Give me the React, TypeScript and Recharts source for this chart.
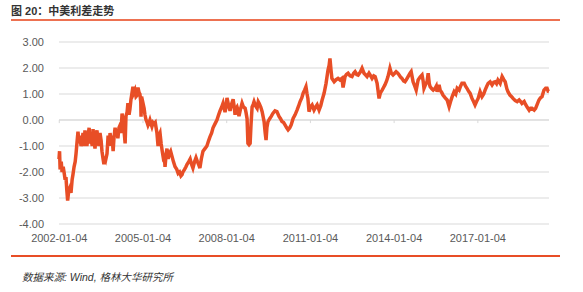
import { LineChart, Line, XAxis, YAxis, CartesianGrid, ReferenceLine } from "recharts";

// China–US 10y yield spread (x = fractional year)
const years = [
  2002.0, 2002.02, 2002.04, 2002.08, 2002.11, 2002.15, 2002.18, 2002.22, 2002.25, 2002.28, 2002.31, 2002.35, 2002.39, 2002.43, 2002.47, 2002.5, 2002.54, 2002.58, 2002.61, 2002.65, 2002.68, 2002.72, 2002.75, 2002.79, 2002.82, 2002.86, 2002.9, 2002.93, 2002.97,
  2003.0, 2003.04, 2003.08, 2003.11, 2003.15, 2003.19, 2003.22, 2003.25, 2003.29, 2003.33, 2003.36, 2003.4, 2003.43, 2003.47, 2003.51, 2003.54, 2003.58, 2003.61, 2003.65, 2003.68, 2003.72, 2003.76, 2003.8, 2003.83, 2003.87, 2003.9, 2003.94, 2003.97,
  2004.01, 2004.05, 2004.08, 2004.11, 2004.15, 2004.19, 2004.22, 2004.26, 2004.3, 2004.33, 2004.37, 2004.4, 2004.44, 2004.47, 2004.51, 2004.54, 2004.58, 2004.61, 2004.65, 2004.68, 2004.72, 2004.76, 2004.8, 2004.83, 2004.87, 2004.9, 2004.93, 2004.94, 2004.96,
  2005.0, 2005.05, 2005.08, 2005.12, 2005.16, 2005.19, 2005.23, 2005.26, 2005.3, 2005.33, 2005.37, 2005.41, 2005.45, 2005.48, 2005.51, 2005.55, 2005.58, 2005.62, 2005.66, 2005.7, 2005.73, 2005.77, 2005.8, 2005.84, 2005.87, 2005.91, 2005.95,
  2006.0, 2006.05, 2006.1, 2006.16, 2006.22, 2006.27, 2006.32, 2006.37, 2006.41, 2006.44, 2006.5, 2006.55, 2006.59, 2006.65, 2006.7, 2006.75, 2006.8, 2006.86, 2006.91, 2006.96,
  2007.0, 2007.05, 2007.1, 2007.16, 2007.23, 2007.3, 2007.36, 2007.41, 2007.47, 2007.52, 2007.59, 2007.66, 2007.72, 2007.77, 2007.83, 2007.88, 2007.92, 2007.95,
  2008.0, 2008.02, 2008.07, 2008.13, 2008.18, 2008.24, 2008.28, 2008.31, 2008.35, 2008.38, 2008.42, 2008.45, 2008.5, 2008.56, 2008.61, 2008.67, 2008.7, 2008.74, 2008.77, 2008.81, 2008.85, 2008.88, 2008.92, 2008.96, 2008.99,
  2009.04, 2009.1, 2009.14, 2009.17, 2009.23, 2009.28, 2009.35, 2009.39, 2009.42, 2009.45, 2009.49, 2009.55, 2009.6, 2009.67, 2009.74, 2009.81, 2009.89, 2009.94, 2009.99,
  2010.05, 2010.1, 2010.16, 2010.21, 2010.27, 2010.32, 2010.39, 2010.46, 2010.53, 2010.59, 2010.64, 2010.7, 2010.75, 2010.8, 2010.85, 2010.89, 2010.92, 2010.96,
  2011.01, 2011.07, 2011.14, 2011.2, 2011.25, 2011.32, 2011.38, 2011.43, 2011.5, 2011.57, 2011.64, 2011.68, 2011.71, 2011.75, 2011.78, 2011.86, 2011.93,
  2012.0, 2012.07, 2012.14, 2012.18, 2012.25, 2012.3, 2012.36, 2012.43, 2012.5, 2012.56, 2012.61, 2012.67, 2012.72, 2012.8, 2012.86, 2012.93,
  2013.0, 2013.04, 2013.11, 2013.17, 2013.22, 2013.28, 2013.33, 2013.4, 2013.47, 2013.52, 2013.58, 2013.63, 2013.68, 2013.74, 2013.79, 2013.86, 2013.91, 2013.97,
  2014.03, 2014.08, 2014.14, 2014.19, 2014.24, 2014.29, 2014.35, 2014.4, 2014.45, 2014.51, 2014.58, 2014.62, 2014.69, 2014.75, 2014.8, 2014.87, 2014.94,
  2015.01, 2015.05, 2015.08, 2015.15, 2015.19, 2015.23, 2015.27, 2015.3, 2015.36, 2015.41, 2015.48, 2015.52, 2015.55, 2015.62, 2015.66, 2015.72, 2015.76, 2015.84, 2015.91, 2015.98,
  2016.03, 2016.09, 2016.16, 2016.22, 2016.27, 2016.34, 2016.39, 2016.44, 2016.52, 2016.57, 2016.62, 2016.68, 2016.73, 2016.8, 2016.86, 2016.91, 2016.96,
  2017.02, 2017.09, 2017.16, 2017.22, 2017.27, 2017.33, 2017.38, 2017.45, 2017.52, 2017.58, 2017.63, 2017.68, 2017.73, 2017.81, 2017.88, 2017.94, 2017.99,
  2018.05, 2018.09, 2018.16, 2018.22, 2018.27, 2018.35, 2018.42, 2018.49, 2018.55, 2018.59, 2018.67, 2018.72, 2018.77, 2018.85, 2018.9, 2018.95,
  2019.03, 2019.08, 2019.13, 2019.2, 2019.25, 2019.31, 2019.38, 2019.44, 2019.49, 2019.53, 2019.56,
];

const spread = [
  -1.5, -1.2, -1.9, -1.6, -2.0, -1.8, -2.0, -2.3, -2.2, -2.7, -3.1, -2.7, -2.6, -2.8, -2.3, -2.1, -1.8, -1.6, -1.3, -0.8, -0.45, -0.9, -0.6, -1.0, -0.9, -0.5, -1.0, -0.4, -0.8,
  -1.0, -0.6, -0.3, -0.9, -0.7, -1.0, -0.35, -0.7, -1.1, -0.6, -0.4, -0.8, -1.0, -0.5, -0.8, -1.2, -1.5, -1.7, -1.4, -1.5, -1.3, -0.6, -1.0, -0.5, -0.9, -0.6, -1.2, -0.7,
  -0.3, -0.6, -0.4, -0.7, -0.3, -0.2, -0.5, 0.25, -0.1, -0.4, -0.9, 0.15, 0.3, 0.65, 0.2, 0.4, 0.8, 1.0, 1.28, 1.05, 1.15, 0.9, 0.95, 1.25, 1.05, 1.0, 0.7, 0.13, 0.9,
  0.7, 0.45, 0.2, 0.0, -0.1, -0.2, -0.1, 0.0, -0.15, -0.25, -0.1, -0.15, -0.1, -0.3, -0.5, -1.0, -0.6, -0.5, -0.9, -1.2, -1.4, -1.3, -1.8, -1.3, -1.1, -1.5, -1.3,
  -1.2, -1.4, -1.6, -1.8, -1.9, -2.05, -2.0, -2.15, -2.1, -2.0, -1.9, -1.8, -1.7, -1.6, -1.5, -1.7, -1.85, -1.6, -1.45, -1.6,
  -1.7, -1.85, -1.5, -1.2, -1.1, -1.0, -0.8, -0.65, -0.5, -0.3, -0.15, 0.0, 0.2, 0.35, 0.5, 0.65, 0.45, 0.3,
  0.6, 0.85, 0.6, 0.35, 0.6, 0.8, 0.5, 0.2, 0.45, 0.5, 0.35, 0.15, 0.4, 0.65, 0.5, 0.45, 0.3, 0.05, -0.9, -0.95, -0.9, -0.2, 0.5, 0.6, 0.7,
  0.55, 0.45, 0.7, 0.64, 0.5, 0.32, -0.06, -0.5, -0.77, -0.3, -0.06, 0.05, 0.13, 0.26, 0.35, 0.32, 0.13, 0.05, -0.06,
  -0.1, -0.19, -0.3, -0.38, -0.3, -0.19, 0.06, 0.2, 0.38, 0.55, 0.71, 0.85, 1.03, 1.15, 1.28, 1.0, 0.83, 0.32,
  0.5, 0.58, 0.38, 0.5, 0.58, 0.38, 0.55, 0.77, 1.03, 1.41, 1.92, 2.1, 2.37, 1.9, 1.6, 1.47, 1.55,
  1.6, 1.54, 1.6, 1.25, 1.67, 1.75, 1.8, 1.7, 1.67, 1.8, 1.86, 1.75, 1.73, 1.85, 1.99, 1.8,
  1.72, 1.67, 1.8, 1.7, 1.6, 1.7, 1.67, 1.41, 0.83, 1.05, 1.15, 1.25, 1.35, 1.5, 1.67, 1.99, 1.8, 1.73,
  1.8, 1.86, 1.8, 1.73, 1.65, 1.6, 1.5, 1.47, 1.55, 1.67, 1.8, 1.86, 1.47, 1.3, 1.15, 1.54, 1.65,
  1.73, 1.5, 1.22, 1.4, 1.47, 1.8, 1.4, 1.28, 1.2, 1.15, 1.22, 1.3, 1.09, 1.35, 1.15, 1.05, 0.96, 0.85, 0.77, 0.51,
  0.7, 0.9, 1.09, 1.0, 1.22, 1.15, 1.3, 1.41, 1.41, 1.3, 1.22, 1.1, 1.03, 0.83, 0.7, 0.58, 0.7,
  0.83, 1.09, 0.9, 1.0, 1.15, 1.3, 1.41, 1.47, 1.35, 1.45, 1.47, 1.4, 1.54, 1.41, 1.67, 1.55, 1.47,
  1.2, 1.09, 0.96, 0.9, 0.83, 0.75, 0.71, 0.77, 0.7, 0.64, 0.71, 0.6, 0.51, 0.38, 0.45, 0.45,
  0.38, 0.45, 0.58, 0.77, 0.85, 0.9, 1.15, 1.22, 1.22, 1.1, 1.09,
];

const tickYears = [2002.01, 2005.01, 2008.01, 2011.01, 2014.01, 2017.01];
const tickLabels = ["2002-01-04", "2005-01-04", "2008-01-04", "2011-01-04", "2014-01-04", "2017-01-04"];
const yTicks = [-4, -3, -2, -1, 0, 1, 2, 3];

const RED = "#E84E26";
const GRID = "#D9D9D9";
const FONT = '"Liberation Sans", "Noto Sans CJK SC", sans-serif';

export default function App() {
  const data = years.map((t, i) => ({ t, v: spread[i] }));

  return (
    <div style={{ position: "absolute", left: 0, top: 0, width: 583, height: 292, background: "#fff", fontFamily: FONT }}>
      <div style={{ position: "absolute", left: 11, top: 2, fontSize: 11, fontWeight: 700, color: "#333" }}>
        图 20：中美利差走势
      </div>
      <div style={{ position: "absolute", left: 11, top: 19, width: 549, height: 2, background: RED, opacity: 0.8 }} />

      <LineChart
        width={583}
        height={292}
        data={data}
        margin={{ top: 42, right: 34, left: 9, bottom: 38 }}
      >
        <CartesianGrid vertical={false} stroke={GRID} />
        <XAxis
          type="number"
          dataKey="t"
          domain={[2002.0, 2019.56]}
          ticks={tickYears}
          tickFormatter={(v) => tickLabels[tickYears.indexOf(v)] ?? ""}
          interval={0}
          height={30}
          axisLine={false}
          tickLine={false}
          tickMargin={4}
          tick={{ fontSize: 11, fill: "#595959", fontFamily: FONT }}
        />
        <YAxis
          type="number"
          domain={[-4, 3]}
          ticks={yTicks}
          width={50}
          axisLine={false}
          tickLine={false}
          tickMargin={9}
          tickFormatter={(v) => v.toFixed(2)}
          tick={{ fontSize: 11, fill: "#595959", fontFamily: FONT }}
        />
        <ReferenceLine y={0} stroke={GRID} />
        {tickYears.map((t) => (
          <ReferenceLine
            key={t}
            segment={[{ x: t, y: 0 }, { x: t, y: -0.12 }]}
            stroke={GRID}
          />
        ))}
        <Line
          type="linear"
          dataKey="v"
          stroke={RED}
          strokeWidth={3.5}
          dot={false}
          isAnimationActive={false}
        />
      </LineChart>

      <div style={{ position: "absolute", left: 11, top: 255, width: 549, height: 2, background: RED }} />
      <div style={{ position: "absolute", left: 22, top: 269, fontSize: 10.5, fontStyle: "italic", color: "#333" }}>
        数据来源: Wind, 格林大华研究所
      </div>
    </div>
  );
}
